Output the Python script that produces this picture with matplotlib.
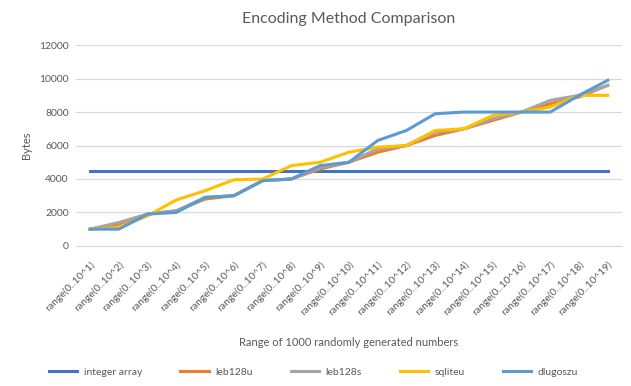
import numpy as np
import matplotlib
matplotlib.use('Agg')
import matplotlib.pyplot as plt

plt.rcParams['font.family'] = ['Lato', 'DejaVu Sans']

# categories
ranges = ['range(0..10^%d)' % i for i in range(1, 20)]

# series values (bytes)
integer_array = [4500] * 19
leb128u = [1000, 1300, 1900, 2100, 2800, 3000, 3900, 4000, 4600, 5000,
           5600, 6000, 6600, 7000, 7500, 8000, 8500, 8900, 9600]
leb128s = [1000, 1400, 1900, 2100, 2900, 3000, 3900, 4000, 4700, 5000,
           5800, 6000, 6800, 7000, 7600, 8000, 8700, 9000, 9600]
sqliteu = [1000, 1100, 1800, 2750, 3300, 3950, 4000, 4800, 5000, 5600,
           5900, 6000, 6900, 7000, 7800, 8000, 8300, 9000, 9000]
dlugoszu = [1000, 1000, 1900, 2000, 2900, 3000, 3900, 4000, 4800, 5000,
            6300, 6900, 7900, 8000, 8000, 8000, 8000, 9000, 9900]

series = [('integer array', integer_array, '#4472c4'),
          ('leb128u', leb128u, '#ed7d31'),
          ('leb128s', leb128s, '#a5a5a5'),
          ('sqliteu', sqliteu, '#ffc000'),
          ('dlugoszu', dlugoszu, '#5b9bd5')]

fig = plt.figure(figsize=(6.31, 3.86), dpi=100)
ax = fig.add_axes([0.120, 0.363, 0.866, 0.520])

x = np.arange(len(ranges))
for name, vals, col in series:
    ax.plot(x, vals, color=col, lw=2.2, label=name, solid_joinstyle='round')

ax.set_xlim(-0.5, len(ranges) - 0.5)
ax.set_ylim(0, 12000)
ax.set_yticks(range(0, 12001, 2000))
ax.grid(axis='y', color='#d9d9d9', lw=0.9)
ax.set_axisbelow(True)
for s in ax.spines.values():
    s.set_visible(False)
ax.spines['bottom'].set_visible(True)
ax.spines['bottom'].set_color('#d9d9d9')
ax.tick_params(axis='both', length=0, labelsize=7.5, colors='#595959')
ax.tick_params(axis='y', pad=5)
ax.tick_params(axis='x', pad=10)
ax.set_xticks(x)
ax.set_xticklabels(ranges, rotation=45, ha='right', rotation_mode='anchor')

ax.set_title('Encoding Method Comparison', fontsize=11.5, color='#595959', pad=16)
ax.set_ylabel('Bytes', fontsize=8, color='#595959', labelpad=5)
ax.set_xlabel('Range of 1000 randomly generated numbers', fontsize=8, color='#595959', labelpad=14)

fig.legend(loc='lower left', ncol=5, frameon=False, fontsize=7.5,
           bbox_to_anchor=(0.063, 0.0), handlelength=2.7, handletextpad=0.6,
           columnspacing=3.7, labelcolor='#595959')

fig.savefig('out.png', dpi=100)
